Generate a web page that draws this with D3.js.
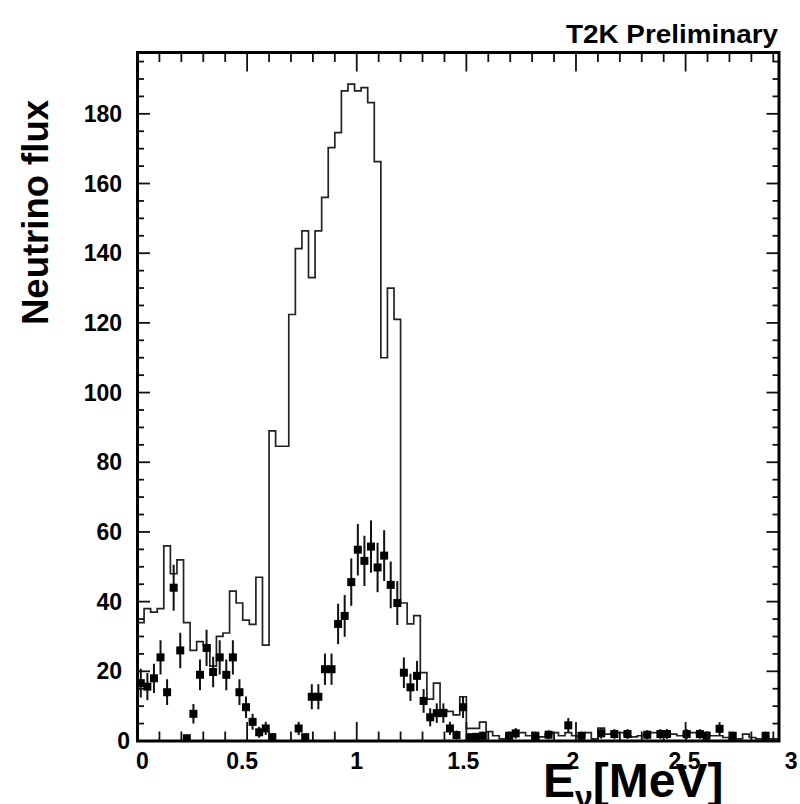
<!DOCTYPE html>
<html><head><meta charset="utf-8">
<script src="https://cdn.jsdelivr.net/npm/d3@7"></script>
<style>body{margin:0;background:#fff} svg{display:block}</style>
</head><body>
<svg id="c" width="800" height="804"></svg>
<script>
// ---------------- data ----------------
const binWidth = 0.03;           // GeV per bin, bins start at 0
const fluxMC = [
  34, 38, 37, 38, 56, 48, 52, 34, 26, 28.5,
  27.5, 21.5, 30, 31, 43, 39.6, 34.7, 33.5, 47, 27.5,
  89, 84.6, 84.6, 122.4, 141.3, 146.4, 133, 146.4, 156, 170.3,
  174.6, 186.6, 188.5, 186.6, 187.5, 183.2, 166.3, 110, 130, 121,
  39.6, 33.6, 36, 19.6, 12, 16.6, 9, 8.5, 7.5, 12.7,
  3.6, 3.6, 5.4, 2.7, 1.5, 0.6, 1.5, 2.4, 2.4, 1.5,
  0.6, 1.2, 2, 2.4, 1.5, 2.4, 1.5, 1.2, 2.4, 0.6,
  3.7, 2, 2.4, 2.4, 1.5, 1.2, 1.5, 2, 2.4, 2.4,
  1.5, 2, 1.5, 2.4, 2.4, 2, 2.4, 1.5, 1.5, 1,
  0.6, 0.6, 2, 1, 0.6, 0.6, 0.6, 0.6
];
const dataPts = [
  16.6, 15.6, 18, 24, 14, 44, 26, 0.8, 7.8, 19,
  26.7, 19.8, 24, 19, 24, 14, 9.7, 5.5, 2.5, 3.6,
  1.1, null, null, null, 3.6, 1.1, 12.7, 12.7, 20.6, 20.6,
  33.6, 35.9, 45.6, 54.9, 51.7, 55.8, 49.8, 53.2, 44.8, 39.6,
  19.6, 15.4, 18.7, 11.5, 6.8, 8, 8, 3.6, 1.7, 9.7,
  1.1, 1.2, 1.5, null, null, null, 1.5, 2.2, null, null,
  1.5, null, 1.8, null, null, 4.5, null, 1.5, null, null,
  2.2, null, 2, null, 2, null, null, 1.8, null, 2,
  2, null, null, 2, null, 2, 1.5, null, 3.5, null,
  1.5, null, null, null, null, 1.5, null, null
];
const dataErr = [
  4.1, 3.9, 4.2, 4.9, 3.7, 6.6, 5.1, 0.9, 2.8, 4.4,
  5.2, 4.4, 4.9, 4.4, 4.9, 3.7, 3.1, 2.3, 1.6, 1.9,
  1, 0, 0, 0, 1.9, 1, 3.6, 3.6, 4.5, 4.5,
  5.8, 6, 6.8, 7.4, 7.2, 7.5, 7.1, 7.3, 6.7, 6.3,
  4.4, 3.9, 4.3, 3.4, 2.6, 2.8, 2.8, 1.9, 1.3, 3.1,
  1, 1.1, 1.2, 0, 0, 0, 1.2, 1.5, 0, 0,
  1.2, 0, 1.3, 0, 0, 2.1, 0, 1.2, 0, 0,
  1.5, 0, 1.4, 0, 1.4, 0, 0, 1.3, 0, 1.4,
  1.4, 0, 0, 1.4, 0, 1.4, 1.2, 0, 1.9, 0,
  1.2, 0, 0, 0, 0, 1.2, 0, 0
];
const xTickVals = [0, 0.5, 1, 1.5, 2, 2.5, 3];
const xTickLabels = ["0", "0.5", "1", "1.5", "2", "2.5", "3"];
const yTickVals = [0, 20, 40, 60, 80, 100, 120, 140, 160, 180];
const yTickLabels = ["0", "20", "40", "60", "80", "100", "120", "140", "160", "180"];
const titleText = "T2K Preliminary";
const yTitle = "Neutrino flux";

// ---------------- layout ----------------
const svg = d3.select("#c");
const L = 137.5, R = 779, T = 52.5, B = 741;
const x = d3.scaleLinear().domain([0, 2.926]).range([L, R]);
const y = d3.scaleLinear().domain([0, 197.6]).range([B, T]);
const font = "'Liberation Sans', Arial, Helvetica, sans-serif";

svg.append("defs").append("clipPath").attr("id", "plot")
  .append("rect").attr("x", L).attr("y", T).attr("width", R - L).attr("height", B - T);

const g = svg.append("g").attr("clip-path", "url(#plot)");

// histogram (MC flux)
const histPts = [];
fluxMC.forEach((v, i) => {
  histPts.push([i * binWidth, v]);
  histPts.push([(i + 1) * binWidth, v]);
});
g.append("path")
  .attr("d", d3.line().x(d => x(d[0])).y(d => y(d[1]))(histPts))
  .attr("fill", "none").attr("stroke", "#222").attr("stroke-width", 1.7);

// data points with error bars
const pts = dataPts.map((v, i) => ({v, e: dataErr[i], c: (i + 0.5) * binWidth})).filter(d => d.v !== null);
g.selectAll("line.err").data(pts).join("line")
  .attr("x1", d => x(d.c)).attr("x2", d => x(d.c))
  .attr("y1", d => y(d.v + d.e)).attr("y2", d => y(Math.max(0, d.v - d.e)))
  .attr("stroke", "#111").attr("stroke-width", 2);
g.selectAll("rect.mk").data(pts).join("rect")
  .attr("x", d => x(d.c) - 4).attr("y", d => y(d.v) - 4)
  .attr("width", 8).attr("height", 8).attr("fill", "#000");

// ticks
const tk = svg.append("g").attr("stroke", "#111").attr("stroke-width", 1.8);
d3.range(0, 200, 5).forEach(v => {
  if (y(v) < T) return;
  const major = v % 20 === 0;
  const len = major ? 12.5 : 6.5;
  tk.append("line").attr("x1", L).attr("x2", L + len).attr("y1", y(v)).attr("y2", y(v));
  tk.append("line").attr("x1", R).attr("x2", R - len).attr("y1", y(v)).attr("y2", y(v));
});
d3.range(0, 30).forEach(k => {
  const v = k / 10;
  if (x(v) > R) return;
  const major = k % 5 === 0;
  const len = major ? 19 : 9.5;
  tk.append("line").attr("x1", x(v)).attr("x2", x(v)).attr("y1", B).attr("y2", B - len);
  tk.append("line").attr("x1", x(v)).attr("x2", x(v)).attr("y1", T).attr("y2", T + len);
});

// frame
svg.append("rect").attr("x", L).attr("y", T).attr("width", R - L).attr("height", B - T)
  .attr("fill", "none").attr("stroke", "#000").attr("stroke-width", 3);

// tick labels
svg.selectAll("text.yl").data(yTickVals).join("text")
  .attr("x", (d, i) => i === 0 ? 130 : 122).attr("y", d => y(d) + 8)
  .attr("text-anchor", "end").attr("font-family", font).attr("font-weight", "bold")
  .attr("font-size", 23).text((d, i) => yTickLabels[i]);
const xLabelShift = [5, -5, 0, -3, -3, -1, -4];
svg.selectAll("text.xl").data(xTickVals).join("text")
  .attr("x", (d, i) => x(d) + xLabelShift[i]).attr("y", 769)
  .attr("text-anchor", "middle").attr("font-family", font).attr("font-weight", "bold")
  .attr("font-size", 23).text((d, i) => xTickLabels[i]);

// titles
svg.append("text").attr("x", 778).attr("y", 43).attr("text-anchor", "end")
  .attr("font-family", font).attr("font-weight", "bold").attr("font-size", 25)
  .attr("textLength", 212).attr("lengthAdjust", "spacingAndGlyphs").text(titleText);

svg.append("text").attr("transform", "translate(48,325) rotate(-90)")
  .attr("font-family", font).attr("font-weight", "bold").attr("font-size", 37)
  .attr("textLength", 225).attr("lengthAdjust", "spacingAndGlyphs").text(yTitle);

const xt = svg.append("text").attr("x", 543).attr("y", 797)
  .attr("font-family", font).attr("font-weight", "bold").attr("font-size", 48);
xt.append("tspan").text("E");
xt.append("tspan").attr("font-size", 32).attr("dy", 11).text("ν");
xt.append("tspan").attr("dy", -11).text("[MeV]");
</script>
</body></html>
